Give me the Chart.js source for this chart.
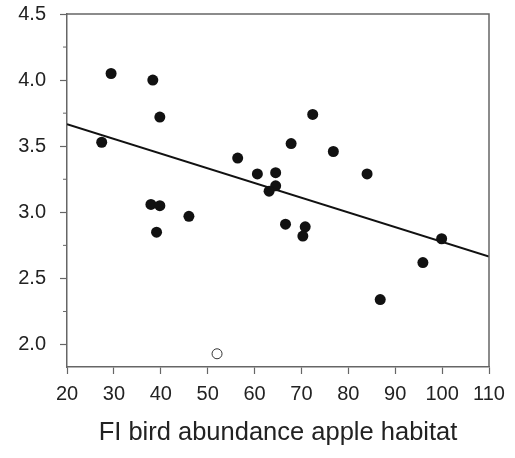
<!DOCTYPE html>
<html>
<head>
<meta charset="utf-8">
<script src="https://cdn.jsdelivr.net/npm/chart.js@4"></script>
<style>
  html, body { margin: 0; padding: 0; background: #fff; }
  #wrap { width: 515px; height: 458px; }
</style>
</head>
<body>
<div id="wrap"><canvas id="scatterChart" width="515" height="458"></canvas></div>
<script>
// filled points (x = FI bird abundance, y = response)
const birdX = [27.4, 29.4, 38.3, 39.8, 56.4, 60.6, 37.9, 39.8, 46.0, 39.1, 72.4, 67.8,
               76.8, 64.5, 84.0, 64.5, 63.1, 66.6, 70.8, 70.3, 99.9, 95.9, 86.8];
const birdY = [3.53, 4.05, 4.00, 3.72, 3.41, 3.29, 3.06, 3.05, 2.97, 2.85, 3.74, 3.52,
               3.46, 3.30, 3.29, 3.20, 3.16, 2.91, 2.89, 2.82, 2.80, 2.62, 2.34];
// open (excluded) point
const outlierX = [52.0];
const outlierY = [1.93];
// regression line end points
const fitX = [20, 110];
const fitY = [3.667, 2.666];

const xTicks = [20, 30, 40, 50, 60, 70, 80, 90, 100, 110];
const yTicks = [2.0, 2.5, 3.0, 3.5, 4.0, 4.5];

const axisColor = '#666';
const toPoints = (xs, ys) => xs.map((x, i) => ({ x: x, y: ys[i] }));

// box on top/right plus minor y ticks
const framePlugin = {
    id: 'frame',
    afterDraw(chart) {
        const { ctx, chartArea: a, scales } = chart;
        ctx.save();
        ctx.strokeStyle = axisColor;
        ctx.lineWidth = 1.5;
        ctx.beginPath();
        ctx.moveTo(a.left, a.top);
        ctx.lineTo(a.right, a.top);
        ctx.lineTo(a.right, a.bottom);
        ctx.stroke();
        // minor ticks between labelled y ticks
        ctx.lineWidth = 1;
        for (let i = 0; i < yTicks.length - 1; i++) {
            const v = (yTicks[i] + yTicks[i + 1]) / 2;
            const py = scales.y.getPixelForValue(v);
            ctx.beginPath();
            ctx.moveTo(a.left - 4, py);
            ctx.lineTo(a.left, py);
            ctx.stroke();
        }
        ctx.restore();
    }
};

new Chart(document.getElementById('scatterChart'), {
    type: 'scatter',
    data: {
        datasets: [
            {
                label: 'fit',
                type: 'line',
                data: toPoints(fitX, fitY),
                borderColor: '#111',
                borderWidth: 2,
                pointRadius: 0,
                fill: false
            },
            {
                label: 'sites',
                data: toPoints(birdX, birdY),
                backgroundColor: '#111',
                borderColor: '#111',
                pointRadius: 5.5,
                pointBorderWidth: 0
            },
            {
                label: 'excluded',
                data: toPoints(outlierX, outlierY),
                backgroundColor: '#fff',
                borderColor: '#333',
                pointRadius: 5,
                pointBorderWidth: 1
            }
        ]
    },
    options: {
        responsive: false,
        animation: false,
        layout: { padding: { top: 14, right: 26, left: 0, bottom: 0 } },
        plugins: {
            legend: { display: false },
            tooltip: { enabled: false }
        },
        scales: {
            x: {
                type: 'linear',
                min: 20,
                max: 110,
                afterBuildTicks: (s) => { s.ticks = xTicks.map(v => ({ value: v })); },
                afterFit: (s) => { s.height = 91; s.paddingLeft = 0; s.paddingRight = 0; },
                border: { color: axisColor, width: 1.5 },
                grid: { drawOnChartArea: false, tickLength: 7, color: axisColor, tickWidth: 1.2 },
                ticks: {
                    color: '#222',
                    font: { family: 'Liberation Sans, Arial', size: 20 },
                    padding: 8,
                    maxRotation: 0
                },
                title: {
                    display: true,
                    text: 'FI bird abundance apple habitat',
                    color: '#222',
                    font: { family: 'Liberation Sans, Arial', size: 25.5 },
                    padding: { top: 0, bottom: 10 }
                }
            },
            y: {
                type: 'linear',
                min: 1.83,
                max: 4.5,
                afterBuildTicks: (s) => { s.ticks = yTicks.map(v => ({ value: v })); },
                afterFit: (s) => { s.width = 67; s.paddingTop = 0; s.paddingBottom = 0; },
                border: { color: axisColor, width: 1.5 },
                grid: { drawOnChartArea: false, tickLength: 7, color: axisColor, tickWidth: 1.2 },
                ticks: {
                    color: '#222',
                    font: { family: 'Liberation Sans, Arial', size: 20 },
                    padding: 14,
                    callback: (v) => v.toFixed(1)
                }
            }
        }
    },
    plugins: [framePlugin]
});
</script>
</body>
</html>
